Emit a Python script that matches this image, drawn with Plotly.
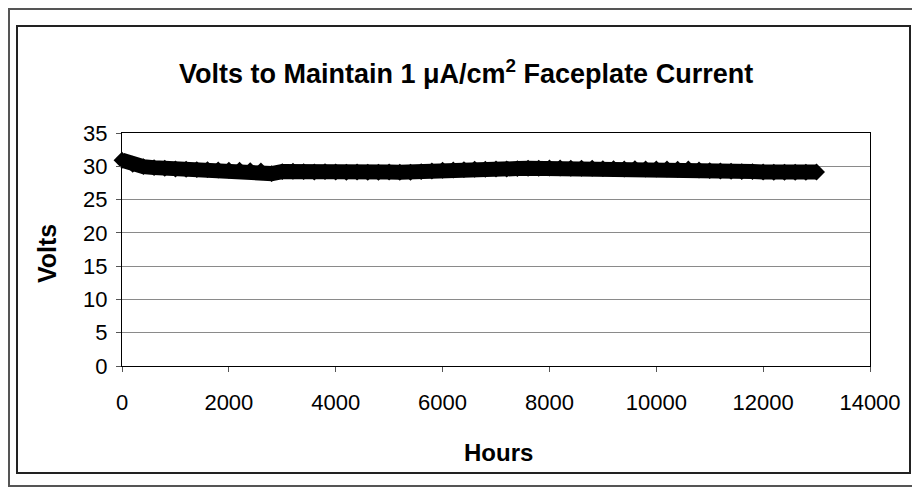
import plotly.graph_objects as go

hours = [0, 200, 400, 600, 800, 1000, 1200, 1400, 1600, 1800,
         2000, 2200, 2400, 2600, 2800, 3000, 3200, 3400, 3600, 3800,
         4000, 4200, 4400, 4600, 4800, 5000, 5200, 5400, 5600, 5800,
         6000, 6200, 6400, 6600, 6800, 7000, 7200, 7400, 7600, 7800,
         8000, 8200, 8400, 8600, 8800, 9000, 9200, 9400, 9600, 9800,
         10000, 10200, 10400, 10600, 10800, 11000, 11200, 11400, 11600, 11800,
         12000, 12200, 12400, 12600, 12800, 13000]
volts = [30.9, 30.3, 29.95, 29.8, 29.7, 29.6, 29.55, 29.5, 29.5, 29.45,
         29.4, 29.4, 29.35, 29.3, 28.9, 29.2, 29.25, 29.2, 29.15, 29.2,
         29.15, 29.1, 29.15, 29.1, 29.1, 29.15, 29.1, 29.1, 29.2, 29.3,
         29.4, 29.45, 29.5, 29.55, 29.55, 29.6, 29.6, 29.65, 29.7, 29.7,
         29.75, 29.75, 29.7, 29.7, 29.7, 29.65, 29.65, 29.6, 29.65, 29.6,
         29.6, 29.6, 29.55, 29.6, 29.45, 29.35, 29.3, 29.25, 29.2, 29.2,
         29.15, 29.1, 29.1, 29.1, 29.1, 29.15]

x_ticks = [0, 2000, 4000, 6000, 8000, 10000, 12000, 14000]
y_ticks = [0, 5, 10, 15, 20, 25, 30, 35]

OFF = 8  # page body margin of the browser
W, H = 920 - OFF, 487 - OFF
# plot area in page pixels
L, R, T, B = 122, 870, 133, 366
pw, ph = R - L, B - T

def px(x):
    return (x - L) / pw

def py(y):
    return (B - y) / ph

FONT = "Liberation Sans, Arial, sans-serif"

fig = go.Figure()
fig.add_trace(go.Scatter(
    x=hours, y=volts, mode="lines+markers",
    line=dict(color="black", width=15),
    marker=dict(symbol="diamond", size=13, color="black"),
    showlegend=False, cliponaxis=False,
))

fig.update_layout(
    width=W, height=H,
    margin=dict(l=L - OFF, r=920 - R, t=T - OFF, b=487 - B),
    paper_bgcolor="white", plot_bgcolor="white",
    font=dict(family=FONT, color="black"),
    xaxis=dict(range=[0, 14000], tickvals=x_ticks, ticktext=[str(v) for v in x_ticks],
               showgrid=False, zeroline=False, showline=True, linecolor="black",
               linewidth=1, mirror=True, ticks="outside", ticklen=5, tickcolor="#555",
               tickfont=dict(size=22, family=FONT), ticklabelstandoff=12),
    yaxis=dict(range=[0, 35], tickvals=y_ticks, ticktext=[str(v) for v in y_ticks],
               showgrid=True, gridcolor="#8a8a8a", gridwidth=1, zeroline=False,
               showline=True, linecolor="black", linewidth=1, mirror=True,
               ticks="outside", ticklen=5, tickcolor="#555",
               tickfont=dict(size=22, family=FONT), ticklabelstandoff=4),
    shapes=[
        dict(type="rect", xref="paper", yref="paper",
             x0=px(OFF + 1), x1=px(935), y0=py(486), y1=py(OFF + 1),
             line=dict(color="#555", width=2), layer="below"),
        dict(type="rect", xref="paper", yref="paper",
             x0=px(17), x1=px(910), y0=py(473), y1=py(26),
             line=dict(color="#222", width=2), layer="below"),
    ],
    annotations=[
        dict(text="<b>Volts to Maintain 1 μA/cm<sup>2</sup> Faceplate Current</b>",
             xref="paper", yref="paper", x=px(466), y=py(72),
             xanchor="center", yanchor="middle", showarrow=False,
             font=dict(size=27, family=FONT)),
        dict(text="<b>Volts</b>", xref="paper", yref="paper", x=px(47), y=py(254),
             xanchor="center", yanchor="middle", textangle=-90, showarrow=False,
             font=dict(size=25, family=FONT)),
        dict(text="<b>Hours</b>", xref="paper", yref="paper", x=px(498), y=py(452),
             xanchor="center", yanchor="middle", showarrow=False,
             font=dict(size=24, family=FONT)),
    ],
)

fig.write_html("out.html")
